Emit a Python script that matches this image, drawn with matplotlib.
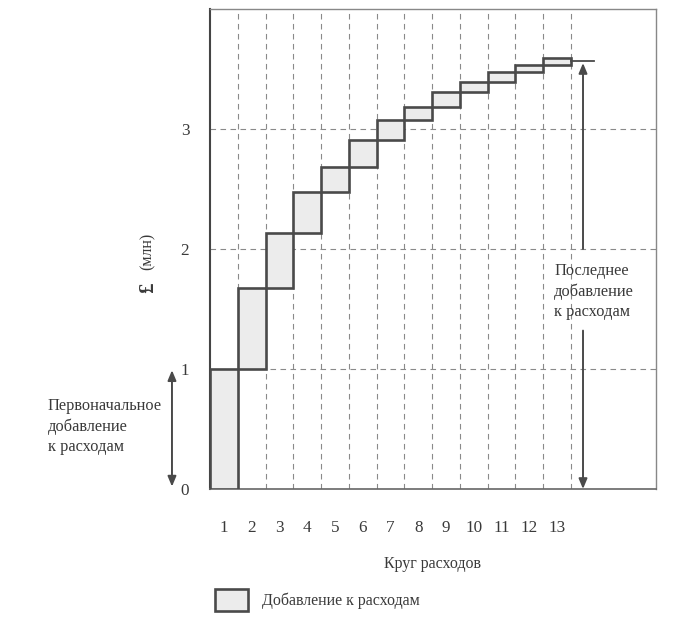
import matplotlib
matplotlib.use('Agg')
import matplotlib.pyplot as plt
from matplotlib.patches import Patch
import numpy as np

plt.rcParams['font.family'] = ['Liberation Serif', 'DejaVu Serif']

# Data: increment added to spending in each round (million £)
rounds = list(range(1, 14))
increments = [1.0, 0.675, 0.455, 0.345, 0.205, 0.23, 0.165, 0.105, 0.13, 0.08, 0.085, 0.055, 0.065]
final_total = 3.57
y_ticks = [0, 1, 2, 3]

bottoms = np.concatenate([[0], np.cumsum(increments)[:-1]])
centers = np.array(rounds) - 0.5

TEXT = '#3a3a3a'
EDGE = '#4a4a4a'
GRID = '#8a8a8a'
FS = 11.8

fig = plt.figure(figsize=(6.75, 6.26), dpi=100)
ax = fig.add_axes([210 / 675, 1 - 489 / 626, 446 / 675, 480 / 626])
ax.set_xlim(0, 16.07)
ax.set_ylim(0, 4)

# dashed grid
for r in rounds:
    ax.axvline(r, color=GRID, lw=0.8, ls=(0, (5, 4)), zorder=1)
for yv in y_ticks[1:]:
    ax.axhline(yv, color=GRID, lw=0.8, ls=(0, (5, 4)), zorder=1)

ax.bar(centers, increments, bottom=bottoms, width=1.0, color='#ececec',
       edgecolor=EDGE, linewidth=1.9, zorder=3)

# final total line and "last addition" arrow
ax.plot([13, 13.84], [final_total, final_total], color=EDGE, lw=1.3, zorder=4)
ax.annotate('', xy=(13.44, final_total - 0.02), xytext=(13.44, 2.0),
            arrowprops=dict(arrowstyle='-|>,head_width=0.25,head_length=0.6',
                            color=EDGE, lw=1.4, mutation_scale=10,
                            shrinkA=0, shrinkB=0), zorder=4)
ax.annotate('', xy=(13.44, 0.0), xytext=(13.44, 1.32),
            arrowprops=dict(arrowstyle='-|>,head_width=0.25,head_length=0.6',
                            color=EDGE, lw=1.4, mutation_scale=10,
                            shrinkA=0, shrinkB=0), zorder=4)
ax.text(12.4, 1.88, 'Последнее\nдобавление\nк расходам', fontsize=FS,
        color=TEXT, va='top', ha='left', linespacing=1.35, zorder=5)

# initial addition double arrow (outside the axes)
ax.annotate('', xy=(-1.37, 0.02), xytext=(-1.37, 0.99),
            arrowprops=dict(arrowstyle='<|-|>,head_width=0.25,head_length=0.6',
                            color=EDGE, lw=1.4, mutation_scale=10,
                            shrinkA=0, shrinkB=0),
            annotation_clip=False)
ax.text(-5.85, 0.76, 'Первоначальное\nдобавление\nк расходам', fontsize=FS,
        color=TEXT, va='top', ha='left', linespacing=1.35, clip_on=False)

# spines
for side in ['top', 'right']:
    ax.spines[side].set_color('#888888')
    ax.spines[side].set_linewidth(1.0)
ax.spines['left'].set_color('#444444')
ax.spines['left'].set_linewidth(1.5)
ax.spines['bottom'].set_color('#666666')
ax.spines['bottom'].set_linewidth(1.2)

ax.set_xticks(centers)
ax.set_xticklabels([str(r) for r in rounds])
ax.set_yticks(y_ticks)
ax.set_yticklabels([str(v) for v in y_ticks])
ax.tick_params(axis='both', length=0, labelsize=FS + 0.5, labelcolor=TEXT)
ax.tick_params(axis='x', pad=22)
ax.tick_params(axis='y', pad=15)

ax.set_xlabel('Круг расходов', fontsize=FS - 0.3, color=TEXT, labelpad=15)

# y label: pound sign and (млн)
fig.text(148 / 675, 1 - 288 / 626, '£', rotation=90, fontsize=15,
         fontweight='bold', color=TEXT, ha='center', va='center')
fig.text(148 / 675, 1 - 251 / 626, '(млн)', rotation=90, fontsize=11.5,
         color=TEXT, ha='center', va='center')

fig.legend(handles=[Patch(facecolor='#ececec', edgecolor=EDGE, linewidth=1.9,
                          label='Добавление к расходам')],
           loc='center left', bbox_to_anchor=(201 / 675, 1 - 600 / 626),
           frameon=False, fontsize=FS - 0.3, handlelength=2.05, handleheight=1.8,
           handletextpad=0.85, labelcolor=TEXT)

fig.savefig('out.png', dpi=100)
